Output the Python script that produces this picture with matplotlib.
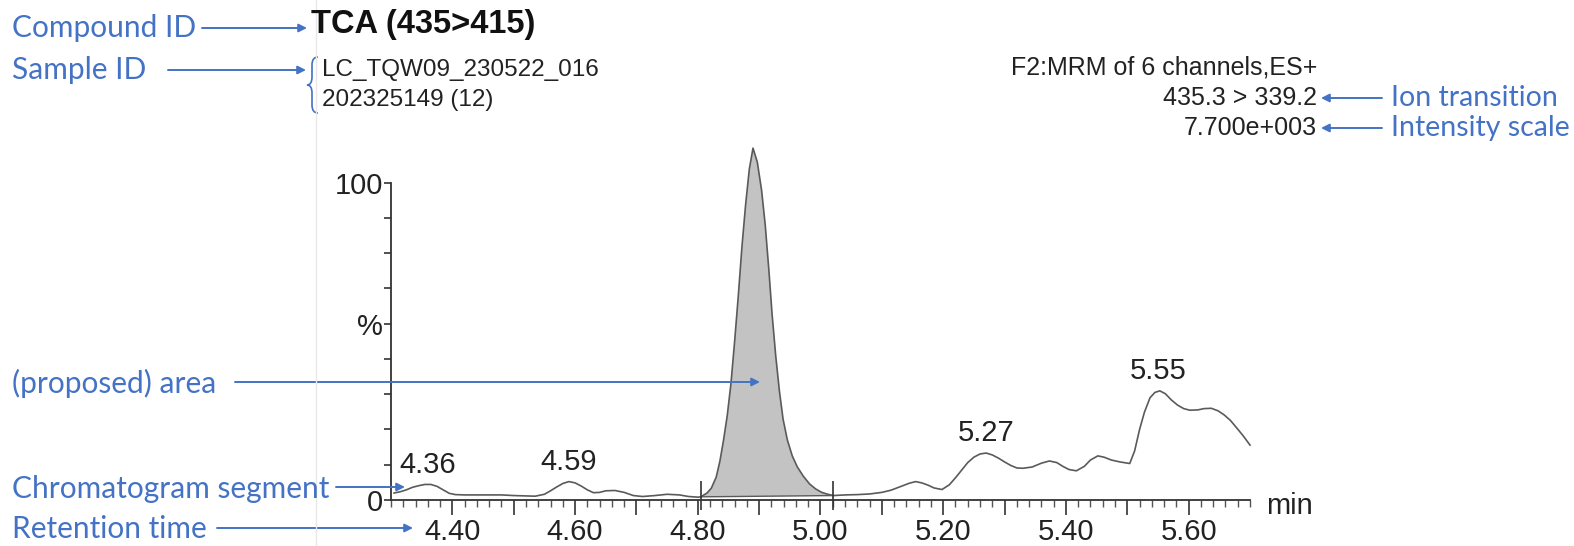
import numpy as np
import matplotlib.pyplot as plt
from matplotlib.patches import FancyArrowPatch, PathPatch
from matplotlib.lines import Line2D
from matplotlib.path import Path
from matplotlib.ticker import MultipleLocator, FixedLocator

# retention time (min) and relative intensity (%) of the trace
rt_pre = [4.305, 4.315, 4.325, 4.335, 4.345, 4.355, 4.365, 4.375, 4.385, 4.395,
          4.405, 4.42, 4.44, 4.46, 4.48, 4.50, 4.52, 4.535, 4.55, 4.56, 4.57,
          4.58, 4.59, 4.60, 4.61, 4.62, 4.63, 4.64, 4.65, 4.665, 4.68, 4.695,
          4.71, 4.73, 4.75, 4.77, 4.785, 4.80]
int_pre = [2.2, 2.6, 3.2, 4.0, 4.5, 4.9, 4.9, 4.3, 3.2, 2.1,
           1.7, 1.6, 1.6, 1.6, 1.6, 1.4, 1.3, 1.2, 1.8, 2.9, 4.1,
           5.2, 5.8, 5.4, 4.4, 3.2, 2.3, 2.4, 2.9, 3.0, 2.4, 1.4,
           1.1, 1.4, 1.8, 1.6, 1.1, 0.9]

rt_peak = [4.805, 4.815, 4.822, 4.830, 4.836, 4.842, 4.848, 4.854, 4.860, 4.866,
           4.872, 4.878, 4.884, 4.890, 4.897, 4.904, 4.910, 4.916, 4.921, 4.927,
           4.933, 4.939, 4.946, 4.954, 4.962, 4.972, 4.982, 4.992, 5.002, 5.012,
           5.021]
int_peak = [1.0, 2.2, 3.7, 7.2, 12.2, 18.9, 26.6, 36.6, 49.9, 64.3,
            79.9, 93.2, 104.3, 110.9, 106.5, 97.6, 86.5, 72.1, 58.8, 45.5,
            34.4, 25.5, 18.9, 13.9, 10.5, 7.5, 5.1, 3.5, 2.4, 1.8,
            1.4]

rt_post = [5.04, 5.06, 5.08, 5.10, 5.115, 5.13, 5.145, 5.155, 5.165, 5.175,
           5.185, 5.198, 5.21, 5.22, 5.23, 5.24, 5.25, 5.26, 5.27, 5.28,
           5.29, 5.30, 5.31, 5.32, 5.33, 5.345, 5.36, 5.373, 5.385, 5.395,
           5.405, 5.417, 5.43, 5.44, 5.452, 5.462, 5.474, 5.488, 5.504, 5.512,
           5.520, 5.528, 5.537, 5.545, 5.553, 5.562, 5.572, 5.582, 5.592, 5.602,
           5.615, 5.625, 5.637, 5.648, 5.658, 5.668, 5.678, 5.689, 5.700]
int_post = [1.6, 1.7, 1.9, 2.4, 3.1, 4.2, 5.3, 5.8, 5.4, 4.7,
            3.8, 3.3, 4.8, 7.0, 9.4, 11.8, 13.5, 14.5, 14.8, 14.2,
            13.2, 12.0, 10.9, 10.1, 10.0, 10.4, 11.6, 12.3, 11.8, 10.6,
            9.6, 9.2, 10.6, 12.6, 13.9, 13.5, 12.6, 12.0, 11.5, 15.5,
            22.2, 27.7, 32.2, 33.9, 34.4, 33.5, 31.5, 29.9, 28.8, 28.3,
            28.4, 28.8, 28.9, 28.1, 26.8, 25.1, 22.8, 20.2, 17.3]

# labelled apexes
apex_rt = [4.36, 4.59, 5.27, 5.55]
apex_int = [4.9, 5.8, 14.8, 34.4]

# integration limits of the proposed peak
peak_limits = [4.805, 5.021]

title = 'TCA (435>415)'
sample_lines = ['LC_TQW09_230522_016', '202325149 (12)']
header_right = ['F2:MRM of 6 channels,ES+', '435.3 > 339.2', '7.700e+003']

W, H = 1574, 546
BLUE = '#4472C4'
INK = '#222222'
TRACE = '#5a5a5a'
NARROW = ['Liberation Sans Narrow', 'Liberation Sans']
CALLOUT = ['Lato', 'DejaVu Sans']
AXFS = 21


def fx(x):
    return x / W


def fy(y):
    return 1 - y / H


fig = plt.figure(figsize=(W / 100, H / 100), dpi=100)
ax = fig.add_axes([fx(391), 46 / H, (1250 - 391) / W, (500 - 182.7) / H])

rt = rt_pre + rt_peak + rt_post
inten = int_pre + int_peak + int_post

ax.fill(rt_peak, int_peak, color='#c3c3c3', lw=0, clip_on=False)
ax.plot(rt, inten, color=TRACE, lw=1.2, clip_on=False)
ax.plot([rt_peak[0], rt_peak[-1]], [int_peak[0], int_peak[-1]], color=TRACE, lw=1.0)
ax.vlines(peak_limits, -3.3, 6.1, color='#333333', lw=1.2, clip_on=False)

for x, y in zip(apex_rt, apex_int):
    ax.annotate('%.2f' % x, (x, y), xytext=(0, 4), textcoords='offset points',
                ha='center', va='bottom', fontsize=AXFS, color=INK, family=NARROW)

ax.set_xlim(4.30, 5.70)
ax.set_ylim(0, 100)
for s in ['top', 'right']:
    ax.spines[s].set_visible(False)
for s in ['left', 'bottom']:
    ax.spines[s].set_color('#333333')
    ax.spines[s].set_linewidth(1.3)

major = np.arange(4.40, 5.61, 0.10)
ax.xaxis.set_major_locator(FixedLocator(major))
ax.set_xticklabels(['%.2f' % v if i % 2 == 0 else '' for i, v in enumerate(major)])
ax.xaxis.set_minor_locator(MultipleLocator(0.02))
ax.tick_params(axis='x', which='major', length=11, width=1.2, color='#333333',
               labelsize=AXFS, labelcolor=INK, pad=2)
ax.tick_params(axis='x', which='minor', length=5, width=1.0, color='#555555')
for lab in ax.get_xticklabels():
    lab.set_family(NARROW)

yt = np.linspace(0, 100, 10)
ax.set_yticks(yt)
ax.set_yticklabels(['0', '', '', '', '', '%', '', '', '', '100'])
ax.tick_params(axis='y', length=5, width=1.2, color='#333333', labelsize=AXFS,
               labelcolor=INK, pad=1)
for lab in ax.get_yticklabels():
    lab.set_family(NARROW)

fig.text(fx(1266), fy(506), 'min', fontsize=AXFS, color=INK, family=NARROW, va='center')

# header block
fig.text(fx(311), fy(24), title, fontsize=23.5, fontweight='bold', color='#111111',
         family='Liberation Sans', va='center')
fig.text(fx(322), fy(70), sample_lines[0], fontsize=17.5, color=INK,
         family='Liberation Sans', va='center')
fig.text(fx(322), fy(100), sample_lines[1], fontsize=17.5, color=INK,
         family='Liberation Sans', va='center')
for i, line in enumerate(header_right):
    fig.text(fx(1317), fy(68 + 30 * i), line, fontsize=18, color=INK,
             family='Liberation Sans', ha='right', va='center')

# brace grouping the sample lines
bx, by0, by1 = 318, 57, 113
ym = (by0 + by1) / 2
verts = [(bx, by0), (bx - 6, by0), (bx - 6, by0 + 8), (bx - 6, ym - 8),
         (bx - 6, ym), (bx - 11, ym), (bx - 6, ym), (bx - 6, ym + 8),
         (bx - 6, by1 - 8), (bx - 6, by1), (bx, by1)]
codes = [Path.MOVETO, Path.CURVE3, Path.CURVE3, Path.LINETO,
         Path.CURVE3, Path.CURVE3, Path.CURVE3, Path.CURVE3,
         Path.LINETO, Path.CURVE3, Path.CURVE3]
brace = Path([(fx(x), fy(y)) for x, y in verts], codes)
fig.add_artist(PathPatch(brace, transform=fig.transFigure, fill=False,
                         edgecolor=BLUE, lw=1.2))

# faint frame edge to the left of the plot
fig.add_artist(Line2D([fx(316), fx(316)], [0, 1], transform=fig.transFigure,
                      color='#e8e8e8', lw=1.0))


def arrow(x0, y0, x1, y1):
    fig.add_artist(FancyArrowPatch((fx(x0), fy(y0)), (fx(x1), fy(y1)),
                                   transform=fig.transFigure, arrowstyle='-|>',
                                   mutation_scale=12, color=BLUE, lw=1.4,
                                   shrinkA=0, shrinkB=0))


callouts = [('Compound ID', 28), ('Sample ID', 70), ('(proposed) area', 383),
            ('Chromatogram segment', 489), ('Retention time', 529)]
for txt, y in callouts:
    fig.text(fx(12), fy(y), txt, fontsize=21.5, color=BLUE, family=CALLOUT, va='center')

arrow(202, 28, 307, 28)
arrow(168, 70, 306, 70)
arrow(235, 382, 760, 382)
arrow(336, 487, 405, 487)
arrow(217, 528, 413, 528)

fig.text(fx(1391), fy(98), 'Ion transition', fontsize=20.5, color=BLUE, family=CALLOUT, va='center')
fig.text(fx(1391), fy(128), 'Intensity scale', fontsize=20.5, color=BLUE, family=CALLOUT, va='center')
arrow(1382, 98, 1321, 98)
arrow(1382, 128, 1321, 128)

fig.savefig('out.png', dpi=100, facecolor='white')
